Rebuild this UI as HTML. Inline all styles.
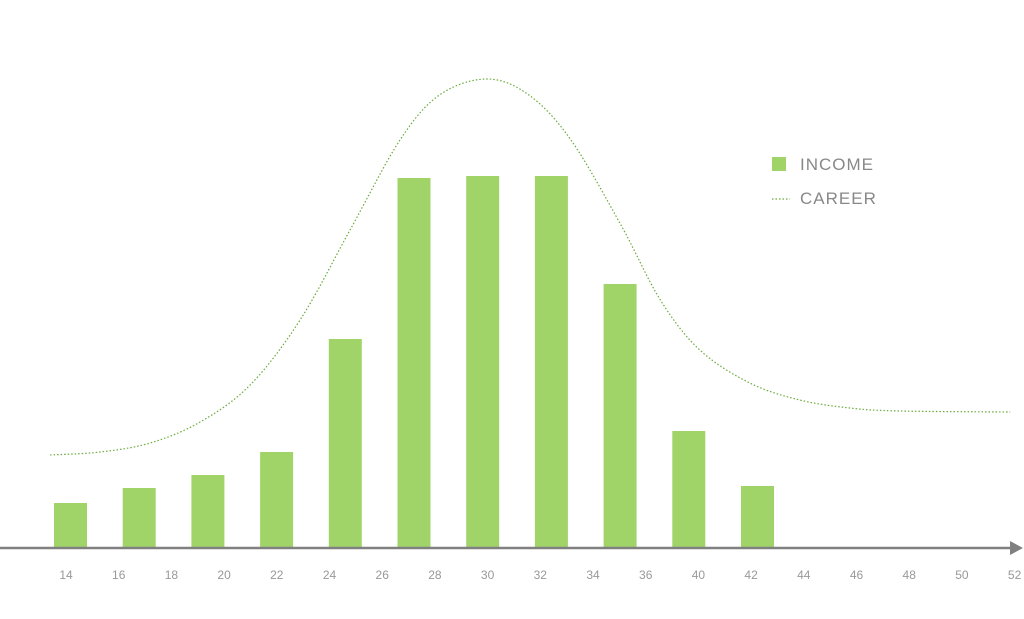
<!DOCTYPE html>
<html><head><meta charset="utf-8"><style>
body{margin:0;background:#fff;width:1024px;height:614px;overflow:hidden;font-family:"Liberation Sans",sans-serif}
</style></head><body>
<svg id="chart" width="1024" height="614" viewBox="0 0 1024 614" xmlns="http://www.w3.org/2000/svg">
<g id="bars"></g>
<path id="career" fill="none" stroke="#6aaa3a" stroke-width="1.2" stroke-dasharray="1.5 2"></path>
<line x1="0" y1="548" x2="1012" y2="548" stroke="#808080" stroke-width="2.5"/>
<polygon points="1010,541 1023,548 1010,555" fill="#808080"/>
<g id="ticks"></g>
<g>
<rect x="772" y="157" width="14" height="14" fill="#a0d468"/>
<text x="800" y="170" font-size="17" fill="#888" letter-spacing="1">INCOME</text>
<line x1="772" y1="199" x2="790" y2="199" stroke="#6aaa3a" stroke-width="1.2" stroke-dasharray="1.5 2"/>
<text x="800" y="204" font-size="17" fill="#888" letter-spacing="1">CAREER</text>
</g>
</svg>
<script>
const tickLabels=["14","16","18","20","22","24","26","28","30","32","34","36","40","42","44","46","48","50","52"];
const incomeValues=[45,60,73,96,209,370,372,372,264,117,62];
const careerAges=[13.4,15.3,17.2,19.1,21.0,22.9,24.8,26.7,28.2,30.0,31.6,33.2,35.1,36.6,38.1,40.0,41.9,43.8,45.7,49.9];
const careerValues=[93,96,105,126,163,228,318,408,453,469,453,408,323,248,198,165,148,140,137,136];
const NS="http://www.w3.org/2000/svg";
const base=548;
function yS(v){return base-v;}
function ageX(a){return 66+(a-14)*26.3;}
function barX(i){return 54+i*68.7;}
const bw=33;
const bars=document.getElementById('bars');
incomeValues.forEach((v,i)=>{
 const r=document.createElementNS(NS,'rect');
 
 
 r.setAttribute('x',barX(i));r.setAttribute('y',yS(v));
 r.setAttribute('width',bw);r.setAttribute('height',v);
 r.setAttribute('fill','#a0d468');
 bars.appendChild(r);
});
const ticks=document.getElementById('ticks');
tickLabels.forEach((t,i)=>{
 const e=document.createElementNS(NS,'text');
 
 
 e.setAttribute('x',66+i*52.7);e.setAttribute('y',579);
 e.setAttribute('text-anchor','middle');e.setAttribute('font-size','12');e.setAttribute('fill','#999');
 e.textContent=t;ticks.appendChild(e);
});
const pts=careerAges.map((a,i)=>[ageX(a),yS(careerValues[i])]);
let d='M'+pts[0][0]+','+pts[0][1];
for(let i=0;i<pts.length-1;i++){
 const p0=pts[Math.max(0,i-1)],p1=pts[i],p2=pts[i+1],p3=pts[Math.min(pts.length-1,i+2)];
 const c1=[p1[0]+(p2[0]-p0[0])/6,p1[1]+(p2[1]-p0[1])/6];
 const c2=[p2[0]-(p3[0]-p1[0])/6,p2[1]-(p3[1]-p1[1])/6];
 d+=' C'+c1+' '+c2+' '+p2;
}
document.getElementById('career').setAttribute('d',d);
</script>
</body></html>
